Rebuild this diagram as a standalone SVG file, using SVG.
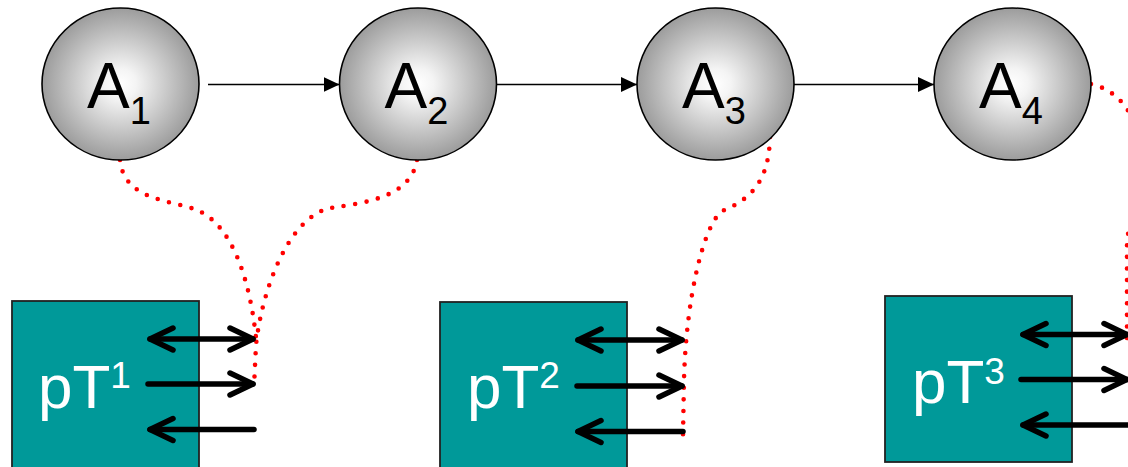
<svg xmlns="http://www.w3.org/2000/svg" width="1128" height="467" viewBox="0 0 1128 467">
<style>
.node{stroke:#000;stroke-width:1.6;fill:url(#sph)}
.lbl{font-family:"Liberation Sans",Arial,sans-serif;font-size:64px;fill:#000;text-anchor:middle}
.sub{font-size:38px}
.box{fill:#009999;stroke:#222;stroke-width:1.8}
.blbl{font-family:"Liberation Sans",Arial,sans-serif;font-size:62px;fill:#fff}
.sup{font-size:37px}
.flow{stroke:#000;stroke-width:1.6;fill:none;marker-end:url(#tri)}
.io{stroke:#000;stroke-width:5.5;fill:none;stroke-linecap:round}
.dot{stroke:#ff0000;stroke-width:4.6;fill:none;stroke-linecap:round;stroke-dasharray:0 11.6}
</style>
<defs>
<radialGradient id="sph" cx="50%" cy="50%" r="50%">
<stop offset="0" stop-color="#ffffff"/>
<stop offset="0.2" stop-color="#f4f4f4"/>
<stop offset="1" stop-color="#9c9c9c"/>
</radialGradient>
<marker id="tri" markerUnits="userSpaceOnUse" markerWidth="18" markerHeight="16" refX="16" refY="7.5" orient="auto">
<path d="M0,0 L16,7.5 L0,15 Z" fill="#000"/>
</marker>
<marker id="chev" markerUnits="userSpaceOnUse" markerWidth="34" markerHeight="34" viewBox="-29 -17 34 34" refX="0" refY="0" orient="auto-start-reverse" overflow="visible">
<path d="M-23,-11 L0,0 L-23,11" fill="none" stroke="#000" stroke-width="5.5" stroke-linecap="round" stroke-linejoin="round"/>
</marker>
</defs>

<g id="connectors">
<line class="flow" x1="208" y1="84.5" x2="339.5" y2="84.5"/>
<line class="flow" x1="496.5" y1="84.5" x2="637" y2="84.5"/>
<line class="flow" x1="794" y1="84.5" x2="934" y2="84.5"/>
<path class="dot" d="M120,160 C124,200 170,200 194,209 C232,222 250,280 256,338"/>
<path class="dot" d="M417,160 C411,197 365,203 330,208 C288,218 262,290 256,345 L254,387"/>
<path class="dot" d="M770,137 C769,180 752,199 722,211 C703,226 686,300 684,380 L683,435"/>
<path class="dot" d="M1091,84 C1118,90 1140,115 1142,160 C1142,205 1128,222 1127,242 L1127,339"/>
</g>

<g id="A1"><ellipse class="node" cx="120.5" cy="84" rx="78.5" ry="76"/><text class="lbl" x="119" y="108">A<tspan class="sub" dy="16">1</tspan></text></g>
<g id="A2"><ellipse class="node" cx="418" cy="84" rx="78.5" ry="76"/><text class="lbl" x="416.5" y="108">A<tspan class="sub" dy="16">2</tspan></text></g>
<g id="A3"><ellipse class="node" cx="715.5" cy="84" rx="78.5" ry="76"/><text class="lbl" x="714" y="108">A<tspan class="sub" dy="16">3</tspan></text></g>
<g id="A4"><ellipse class="node" cx="1012.5" cy="84" rx="78.5" ry="76"/><text class="lbl" x="1011" y="108">A<tspan class="sub" dy="16">4</tspan></text></g>

<g id="pT1">
<rect class="box" x="12" y="301" width="187" height="180"/>
<text class="blbl" x="38" y="408">pT<tspan class="sup" dy="-20">1</tspan></text>
<line class="io" x1="150" y1="339" x2="253" y2="339" marker-start="url(#chev)" marker-end="url(#chev)"/>
<line class="io" x1="148" y1="384" x2="253" y2="384" marker-end="url(#chev)"/>
<line class="io" x1="254" y1="429.5" x2="150" y2="429.5" marker-end="url(#chev)"/>
</g>

<g id="pT2">
<rect class="box" x="440" y="302" width="187" height="180"/>
<text class="blbl" x="467" y="408">pT<tspan class="sup" dy="-20">2</tspan></text>
<line class="io" x1="578" y1="340" x2="682" y2="340" marker-start="url(#chev)" marker-end="url(#chev)"/>
<line class="io" x1="577" y1="386" x2="682" y2="386" marker-end="url(#chev)"/>
<line class="io" x1="683" y1="431.5" x2="578" y2="431.5" marker-end="url(#chev)"/>
</g>

<g id="pT3">
<rect class="box" x="885" y="296" width="187" height="166"/>
<text class="blbl" x="912" y="403">pT<tspan class="sup" dy="-19">3</tspan></text>
<line class="io" x1="1023" y1="334.5" x2="1127" y2="334.5" marker-start="url(#chev)" marker-end="url(#chev)"/>
<line class="io" x1="1021" y1="379.5" x2="1127" y2="379.5" marker-end="url(#chev)"/>
<line class="io" x1="1127" y1="425" x2="1023" y2="425" marker-end="url(#chev)"/>
</g>
</svg>
